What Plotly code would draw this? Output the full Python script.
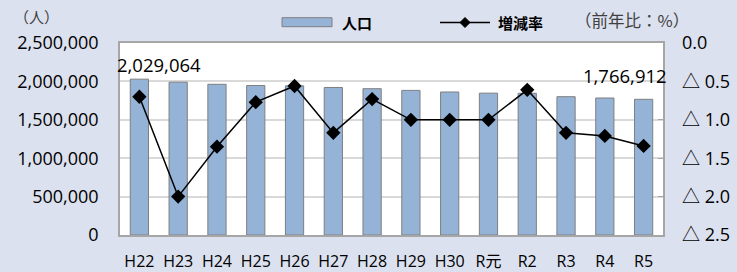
import plotly.graph_objects as go

categories = ["H22", "H23", "H24", "H25", "H26", "H27", "H28", "H29", "H30", "R元", "R2", "R3", "R4", "R5"]
population = [2029064, 1989834, 1962333, 1946077, 1942000, 1921000, 1905000, 1883000, 1862000, 1847000, 1845000, 1801000, 1784000, 1766912]
rate = [-0.70, -2.00, -1.35, -0.77, -0.56, -1.17, -0.73, -1.00, -1.00, -1.00, -0.61, -1.17, -1.21, -1.34]

left_ticks = [0, 500000, 1000000, 1500000, 2000000, 2500000]
left_ticktext = ["0", "500,000", "1,000,000", "1,500,000", "2,000,000", "2,500,000"]
right_ticks = [0, -0.5, -1.0, -1.5, -2.0, -2.5]
right_ticktext = ["0.0", "△ 0.5", "△ 1.0", "△ 1.5", "△ 2.0", "△ 2.5"]

W, H = 737, 272
ML, MR, MT, MB = 120, 74, 43, 37
PW, PH = W - ML - MR, H - MT - MB


def px_x(px):
    return (px - ML) / PW


def px_y(py):
    return (H - MB - py) / PH


FONT = "Open Sans, Noto Sans CJK JP"
CJK = "Noto Sans CJK JP"
GRID = "#D9D9D9"
BORDER = "#A6A6A6"
BAR = "#95B3D7"
BAR_EDGE = "#7F7F7F"

fig = go.Figure()
fig.add_trace(go.Bar(
    x=categories, y=population, name="人口",
    marker=dict(color=BAR, line=dict(color=BAR_EDGE, width=1)),
    width=0.47, yaxis="y",
))
fig.add_trace(go.Scatter(
    x=categories, y=rate, name="増減率", mode="lines+markers",
    line=dict(color="black", width=1.5),
    marker=dict(symbol="diamond", size=11, color="black"),
    yaxis="y2",
))

# data labels
fig.add_annotation(x=categories[0], y=population[0], text="2,029,064",
                   showarrow=False, xshift=20, yshift=15, yanchor="middle",
                   font=dict(family=FONT, size=18.5, color="black"))
fig.add_annotation(x=categories[-1], y=population[-1], text="1,766,912",
                   showarrow=False, xshift=-19, yshift=24, yanchor="middle",
                   font=dict(family=FONT, size=18.5, color="black"))

# axis unit titles
fig.add_annotation(xref="paper", yref="paper", x=px_x(12), y=px_y(17),
                   text="（人）", showarrow=False, xanchor="left", yanchor="middle",
                   font=dict(family=CJK, size=15, color="#404040"))
fig.add_annotation(xref="paper", yref="paper", x=px_x(573), y=px_y(20),
                   text="（前年比：%）", showarrow=False, xanchor="left", yanchor="middle",
                   font=dict(family=CJK, size=16.5, color="#404040"))

# manual legend
fig.add_shape(type="rect", xref="paper", yref="paper",
              x0=px_x(282), x1=px_x(332), y0=px_y(26.7), y1=px_y(17.7),
              fillcolor=BAR, line=dict(color=BAR_EDGE, width=1))
fig.add_annotation(xref="paper", yref="paper", x=px_x(340), y=px_y(22.5),
                   text="<b>人口</b>", showarrow=False, xanchor="left", yanchor="middle",
                   font=dict(family=CJK, size=15, color="black"))
fig.add_shape(type="line", xref="paper", yref="paper",
              x0=px_x(440), x1=px_x(490), y0=px_y(22.5), y1=px_y(22.5),
              line=dict(color="black", width=1.5))
fig.add_shape(type="path", xref="paper", yref="paper",
              xsizemode="pixel", ysizemode="pixel",
              xanchor=px_x(465), yanchor=px_y(22.5),
              path="M -5 0 L 0 5 L 5 0 L 0 -5 Z",
              fillcolor="black", line=dict(color="black", width=1))
fig.add_annotation(xref="paper", yref="paper", x=px_x(496), y=px_y(22.5),
                   text="<b>増減率</b>", showarrow=False, xanchor="left", yanchor="middle",
                   font=dict(family=CJK, size=15, color="black"))

fig.update_layout(
    width=W, height=H,
    margin=dict(l=ML, r=MR, t=MT, b=MB, autoexpand=False),
    paper_bgcolor="#DCE1EF", plot_bgcolor="white",
    font=dict(family=FONT, size=16, color="black"),
    showlegend=False,
    xaxis=dict(range=[-0.5, len(categories) - 0.5],
               showline=True, linecolor=BORDER, linewidth=1.5, mirror=True,
               ticks="", ticklabelstandoff=11, automargin=False,
               tickfont=dict(family=FONT, size=16)),
    yaxis=dict(range=[0, 2500000], tickvals=left_ticks, ticktext=left_ticktext,
               showgrid=True, gridcolor=GRID, gridwidth=1.5, zeroline=False,
               showline=True, linecolor=BORDER, linewidth=1.5, mirror=True,
               ticks="", ticklabelstandoff=16, automargin=False,
               tickfont=dict(family=FONT, size=18)),
    yaxis2=dict(range=[-2.5, 0], tickvals=right_ticks, ticktext=right_ticktext,
                overlaying="y", side="right", showgrid=False, zeroline=False,
                ticks="inside", ticklen=5, tickcolor=BORDER, automargin=False,
                ticklabelstandoff=18, tickfont=dict(family=FONT, size=18)),
)

fig.write_html("out.html", config={"displayModeBar": False},
               post_script="document.body.style.margin='0';document.body.style.overflow='hidden';")
